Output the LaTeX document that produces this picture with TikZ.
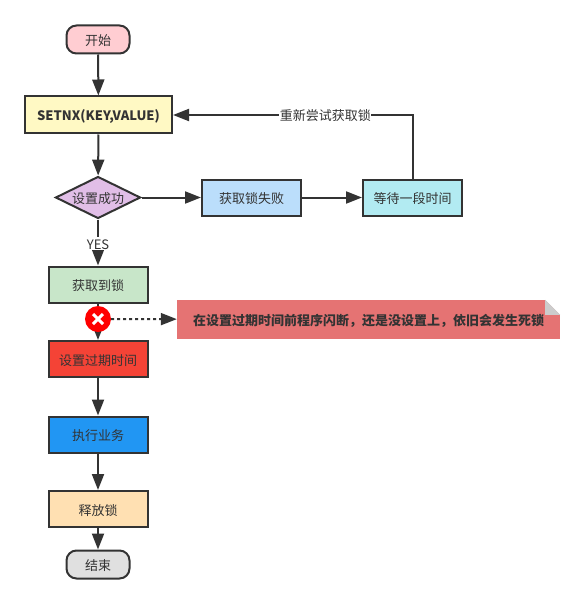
\documentclass[tikz,border=0pt]{standalone}
\usepackage{fontspec}
\setmainfont{Noto Sans CJK SC}
\usetikzlibrary{arrows.meta,shapes.geometric,shapes.misc}
\definecolor{ink}{HTML}{333333}
\tikzset{
  box/.style={draw=ink, line width=2pt, text=ink, font=\fontsize{13}{15}\selectfont, text height=12pt, text depth=0pt, minimum width=99pt, minimum height=36pt, inner sep=0pt},
  term/.style={box, rounded corners=10pt, minimum width=63pt, minimum height=28pt},
  flow/.style={draw=ink, line width=2pt, -{Triangle[length=16pt,width=12pt]}},
  edgelabel/.style={fill=white, text=ink, font=\fontsize{13}{15}\selectfont, text height=12pt, text depth=0pt, inner sep=0.5pt}
}
\begin{document}
\begin{tikzpicture}[x=1pt, y=-1pt]
  \useasboundingbox (0, 0) rectangle (585, 604);
  \node[term, fill={rgb,255:red,255;green,205;blue,210}] (start) at (98, 39.5) {开始};
  \node[box, fill={rgb,255:red,255;green,249;blue,196}, minimum width=147pt, minimum height=37pt, font=\fontsize{13}{15}\selectfont\bfseries] (setnx) at (98.5, 115) {SETNX(KEY,VALUE)};
  \node[diamond, aspect=2.05, draw=ink, line width=2pt, text=ink, fill={rgb,255:red,225;green,190;blue,231}, inner sep=0pt, minimum width=85pt, minimum height=42pt, text height=12pt, text depth=0pt, font=\fontsize{13}{15}\selectfont] (check) at (98, 197.5) {设置成功};
  \node[box, fill={rgb,255:red,187;green,222;blue,251}] (fail) at (251.5, 197.5) {获取锁失败};
  \node[box, fill={rgb,255:red,178;green,235;blue,242}] (wait) at (412.5, 197.5) {等待一段时间};
  \node[box, fill={rgb,255:red,200;green,230;blue,201}] (lock) at (98, 284.5) {获取到锁};
  \node[box, fill={rgb,255:red,244;green,67;blue,54}] (expire) at (98, 359) {设置过期时间};
  \node[box, fill={rgb,255:red,33;green,150;blue,243}] (work) at (98, 434.5) {执行业务};
  \node[box, fill={rgb,255:red,255;green,224;blue,178}] (release) at (98, 509) {释放锁};
  \node[term, fill={rgb,255:red,224;green,224;blue,224}] (stop) at (98, 564.5) {结束};
  \node[fill={rgb,255:red,229;green,115;blue,115}, text=ink, minimum width=383pt, minimum height=39pt, inner sep=0pt, text height=12pt, text depth=0pt, font=\fontsize{13}{15}\selectfont\bfseries] (note) at (368.5, 319.5) {在设置过期时间前程序闪断，还是没设置上，依旧会发生死锁};
  \fill[white] (note.north east) -- ++(-15, 0) -- ++(15, 15) -- cycle;
  \fill[black!20] (note.north east) ++(-15, 0) -- ++(15, 15) -- ++(-15, 0) -- cycle;
  \draw[flow] (start) -- (setnx);
  \draw[flow] (setnx) -- (check);
  \draw[flow] (check) -- (fail);
  \draw[flow] (fail) -- (wait);
  \draw[flow] (wait) |- node[edgelabel, pos=0.682] {重新尝试获取锁} (setnx);
  \draw[flow] (check) -- node[edgelabel, pos=0.52] {YES} (lock);
  \draw[flow] (lock) -- (expire);
  \draw[flow] (expire) -- (work);
  \draw[flow] (work) -- (release);
  \draw[flow] (release) -- (stop);
  \node[circle, fill=red, minimum size=26pt, inner sep=0pt] (error) at (98, 319) {};
  \node[cross out, draw=white, line width=3pt, minimum size=7pt, inner sep=0pt] (cross) at (error) {};
  \draw[flow, dash pattern=on 3pt off 3pt] (error) -- (note);
\end{tikzpicture}
\end{document}
